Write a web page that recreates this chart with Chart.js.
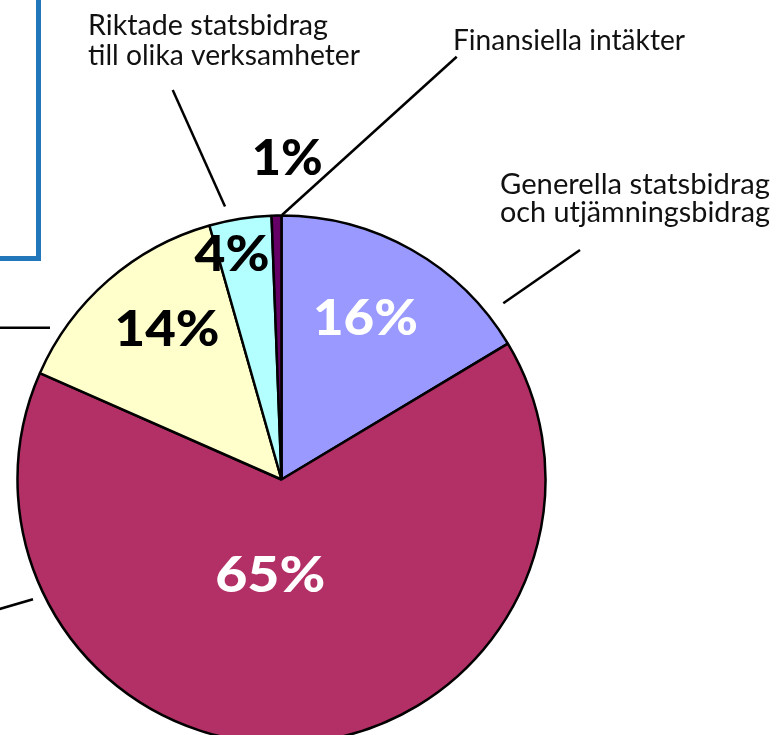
<!DOCTYPE html>
<html><head><meta charset="utf-8">
<script src="https://cdn.jsdelivr.net/npm/chart.js@4"></script>
<style>html,body{margin:0;padding:0;background:#fff;overflow:hidden}#wrap{width:777px;height:735px;position:relative}</style>
</head><body><div id="wrap"><canvas id="c" width="777" height="735"></canvas></div>
<script>
// ---- data ----
const categories = [
  "Generella statsbidrag och utjämningsbidrag",
  "Skatteintäkter",
  "Taxor och avgifter",
  "Riktade statsbidrag till olika verksamheter",
  "Finansiella intäkter"
];
const shares = [16.4, 65.2, 14.0, 3.8, 0.6];
const percentLabels = shares.map(v => Math.round(v) + "%");

// ---- styles ----
const sliceColors = ["#9999ff", "#b33066", "#ffffcc", "#b3ffff", "#660066"];
const labelColors = ["#ffffff", "#ffffff", "#000000", "#000000", "#000000"];
const labelRadiusFactor = [0.693, 0.36, 0.72, 0.88, 1.22];
const labelAngleShiftDeg = [-2.2, 10.4, 4, -3.3, 2.1];
const labelWidths = [105, 110, 105, 75, 71];

function fitText(ctx, txt, x, y, w, align) {
  const m = ctx.measureText(txt).width;
  const s = w / m;
  ctx.save();
  ctx.translate(x, y);
  ctx.scale(s, 1);
  ctx.textAlign = align;
  ctx.fillText(txt, 0, 0);
  ctx.restore();
}

const annotations = {
  id: "annotations",
  afterDatasetsDraw(chart) {
    const ctx = chart.ctx;
    const arcs = chart.getDatasetMeta(0).data;
    // percentage labels, placed relative to each slice
    ctx.save();
    ctx.font = "900 50px Lato";
    ctx.textBaseline = "alphabetic";
    arcs.forEach((arc, i) => {
      const mid = (arc.startAngle + arc.endAngle) / 2 + labelAngleShiftDeg[i] * Math.PI / 180;
      const r = arc.outerRadius * labelRadiusFactor[i];
      const cx = arc.x + Math.cos(mid) * r;
      const cy = arc.y + Math.sin(mid) * r;
      ctx.fillStyle = labelColors[i];
      fitText(ctx, percentLabels[i], cx, cy + 18, labelWidths[i], "center");
    });
    ctx.restore();

    // leader lines
    ctx.save();
    ctx.strokeStyle = "#000";
    ctx.lineWidth = 2.5;
    const lines = [
      [[172.7, 90], [225, 206.5]],
      [[456.7, 56.7], [282, 215]],
      [[580, 250], [503.3, 303.3]],
      [[-2, 327.7], [50, 327.7]],
      [[-2, 609.5], [33, 599.3]]
    ];
    lines.forEach(([a, b]) => {
      ctx.beginPath(); ctx.moveTo(a[0], a[1]); ctx.lineTo(b[0], b[1]); ctx.stroke();
    });
    ctx.restore();

    // blue frame (partial)
    ctx.save();
    ctx.strokeStyle = "#2277bb";
    ctx.lineWidth = 5;
    ctx.beginPath();
    ctx.moveTo(38.5, -10); ctx.lineTo(38.5, 258.5); ctx.lineTo(-10, 258.5);
    ctx.stroke();
    ctx.restore();

    // category texts
    ctx.save();
    ctx.fillStyle = "#111";
    ctx.font = "28px Lato";
    ctx.textBaseline = "alphabetic";
    fitText(ctx, "Riktade statsbidrag", 88, 35, 240, "left");
    fitText(ctx, "till olika verksamheter", 88, 65, 272, "left");
    fitText(ctx, "Finansiella intäkter", 453, 50, 232, "left");
    fitText(ctx, "Generella statsbidrag", 500, 193.5, 270, "left");
    fitText(ctx, "och utjämningsbidrag", 500, 221.5, 270, "left");
    ctx.restore();
  }
};

new Chart(document.getElementById("c"), {
  type: "pie",
  data: {
    labels: categories,
    datasets: [{
      data: shares,
      backgroundColor: sliceColors,
      borderColor: "#000",
      borderWidth: 2.5,
      clip: false
    }]
  },
  options: {
    responsive: false,
    devicePixelRatio: 1,
    animation: false,
    radius: 264,
    layout: { padding: { left: 0, right: 214, top: 224, bottom: 0 } },
    plugins: { legend: { display: false }, tooltip: { enabled: false } }
  },
  plugins: [annotations]
});
</script>
</body></html>
